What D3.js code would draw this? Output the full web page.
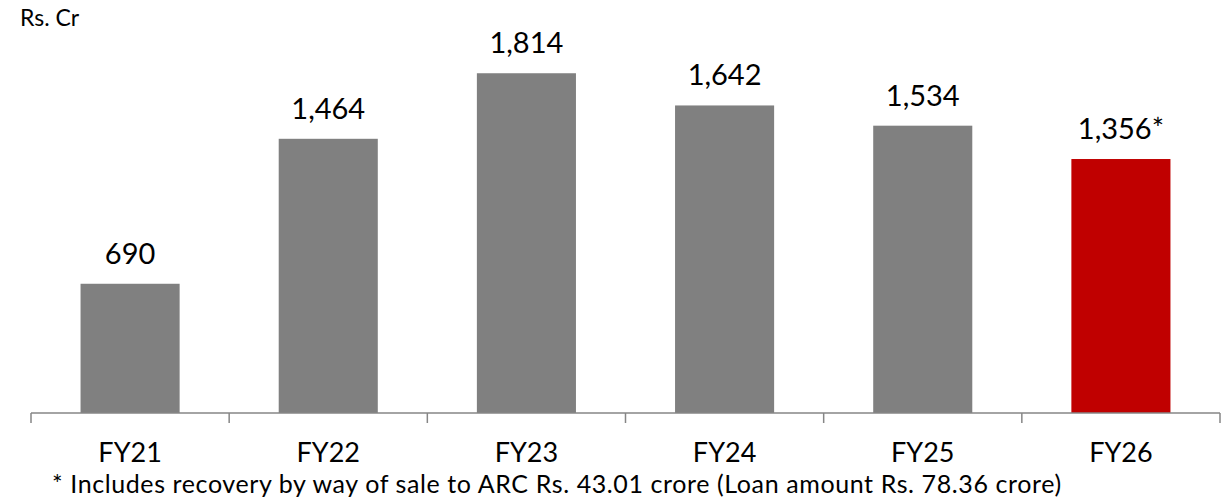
<!DOCTYPE html>
<html>
<head>
<meta charset="utf-8">
<script src="https://cdn.jsdelivr.net/npm/d3@7"></script>
<style>
  body { margin: 0; background: #fff; }
  text { font-family: Lato, "Open Sans", sans-serif; fill: #000; }
</style>
</head>
<body>
<svg id="chart"></svg>
<script>
let years = ['FY21', 'FY22', 'FY23', 'FY24', 'FY25', 'FY26'];
let values = [690, 1464, 1814, 1642, 1534, 1356];
let labels = ['690', '1,464', '1,814', '1,642', '1,534', '1,356*'];
let unitLabel = 'Rs. Cr';
let footnote = '* Includes recovery by way of sale to ARC Rs. 43.01 crore (Loan amount Rs. 78.36 crore)';

let width = 1229;
let height = 498;
let baseY = 413;

let svg = d3.select('#chart')
    .attr('width', width)
    .attr('height', height);

let xScale = d3.scaleBand()
    .domain(years)
    .range([31, 1220])
    .paddingInner(0.5)
    .paddingOuter(0.25);

let yScale = d3.scaleLinear()
    .domain([0, 2000])
    .range([baseY, baseY - 374.6]);

svg.selectAll('rect.bar')
    .data(values)
    .enter()
    .append('rect')
    .attr('class', 'bar')
    .attr('x', (d, i) => xScale(years[i]))
    .attr('y', d => yScale(d))
    .attr('width', xScale.bandwidth())
    .attr('height', d => baseY - yScale(d))
    .attr('fill', (d, i) => i === years.length - 1 ? '#c00000' : '#808080');

svg.selectAll('text.val')
    .data(values)
    .enter()
    .append('text')
    .attr('class', 'val')
    .attr('x', (d, i) => xScale(years[i]) + xScale.bandwidth() / 2)
    .attr('y', d => yScale(d) - 20)
    .attr('text-anchor', 'middle')
    .style('font-size', '29px')
    .text((d, i) => labels[i]);

// axis with ticks at category boundaries
let step = xScale.step();
let axisG = svg.append('g');
axisG.append('line')
    .attr('x1', 31).attr('x2', 1220)
    .attr('y1', baseY).attr('y2', baseY)
    .attr('stroke', '#868686').attr('stroke-width', 1.5);
d3.range(years.length + 1).forEach(i => {
    let x = 31 + i * step;
    axisG.append('line')
        .attr('x1', x).attr('x2', x)
        .attr('y1', baseY).attr('y2', baseY + 10)
        .attr('stroke', '#868686').attr('stroke-width', 1.5);
});

svg.selectAll('text.cat')
    .data(years)
    .enter()
    .append('text')
    .attr('class', 'cat')
    .attr('x', d => xScale(d) + xScale.bandwidth() / 2)
    .attr('y', 462)
    .attr('text-anchor', 'middle')
    .style('font-size', '27px')
    .text(d => d);

svg.append('text')
    .attr('x', 20).attr('y', 26)
    .style('font-size', '23px')
    .text(unitLabel);

svg.append('text')
    .attr('x', 52).attr('y', 493)
    .style('font-size', '25px')
    .style('letter-spacing', '0.6px')
    .text(footnote);
</script>
</body>
</html>
